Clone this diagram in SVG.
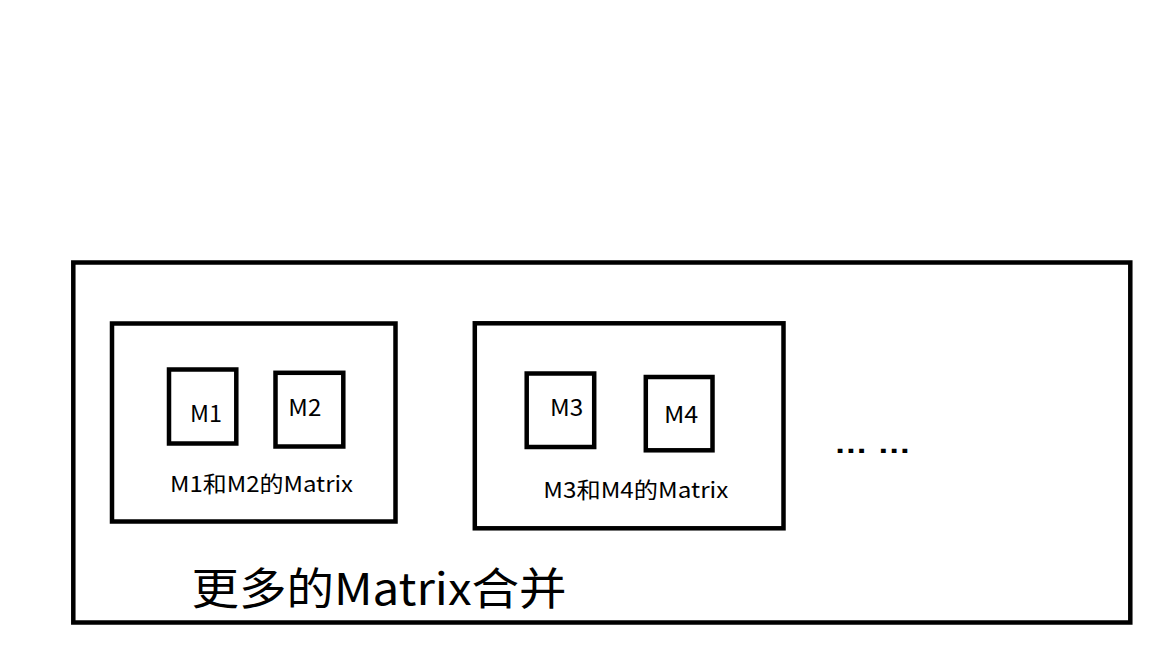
<svg xmlns="http://www.w3.org/2000/svg" width="1152" height="648" viewBox="0 0 1152 648">
<style>
.box{fill:none;stroke:#000;stroke-width:4.5}
.lbl{font-family:"Microsoft YaHei","Noto Sans CJK SC","Noto Sans",sans-serif;fill:#000}
.m{font-size:23px}
.s{font-size:22px}
.big{font-size:44px}
</style>
<rect width="1152" height="648" fill="#fff"/>
<g id="outer">
<rect class="box" x="73.3" y="262.5" width="1057" height="360"/>
<text class="lbl big" x="191.5" y="605" textLength="375" lengthAdjust="spacingAndGlyphs">更多的Matrix合并</text>
</g>
<g id="group1">
<rect class="box" x="112" y="323.5" width="283.5" height="198"/>
<text class="lbl s" x="170" y="491.7" textLength="183" lengthAdjust="spacingAndGlyphs">M1和M2的Matrix</text>
</g>
<g id="m1">
<rect class="box" x="169" y="369.5" width="67.3" height="74"/>
<text class="lbl m" x="190" y="421.7" textLength="32" lengthAdjust="spacingAndGlyphs">M1</text>
</g>
<g id="m2">
<rect class="box" x="275.5" y="372.8" width="67.8" height="73.7"/>
<text class="lbl m" x="288.3" y="416" textLength="33" lengthAdjust="spacingAndGlyphs">M2</text>
</g>
<g id="group2">
<rect class="box" x="474.8" y="323.3" width="308.7" height="205"/>
<text class="lbl s" x="543.3" y="497.7" textLength="185" lengthAdjust="spacingAndGlyphs">M3和M4的Matrix</text>
</g>
<g id="m3">
<rect class="box" x="526.7" y="373.5" width="67.5" height="73.5"/>
<text class="lbl m" x="550" y="416" textLength="33.3" lengthAdjust="spacingAndGlyphs">M3</text>
</g>
<g id="m4">
<rect class="box" x="645.8" y="377" width="66.7" height="73.3"/>
<text class="lbl m" x="664" y="423.3" textLength="34.3" lengthAdjust="spacingAndGlyphs">M4</text>
</g>
<g id="ellipsis">
<text style="font-family:'Liberation Sans',sans-serif;font-size:28px;font-weight:bold;fill:#000" x="834" y="452.5" textLength="77" lengthAdjust="spacingAndGlyphs">… …</text>
</g>
<g id="connectors"/>
</svg>
